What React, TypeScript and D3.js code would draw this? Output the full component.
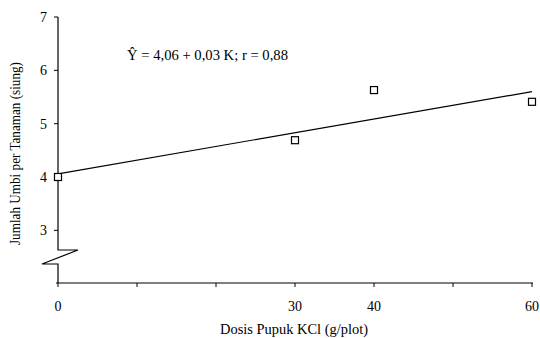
import React from "react";
import * as d3 from "d3";

const doses = [0, 30, 40, 60];
const yields = [4.0, 4.69, 5.63, 5.41];
const xTicks = [0, 10, 20, 30, 40, 50, 60];
const xTickLabels = ["0", "", "", "30", "40", "", "60"];
const yTicks = [3, 4, 5, 6, 7];
const fitStart = 4.06;
const fitEnd = 5.6;
const equation = "Ŷ = 4,06 + 0,03 K; r = 0,88";

export default function App() {
  const W = 540, H = 338;
  const x = d3.scaleLinear().domain([0, 60]).range([58, 532]);
  const y = d3.scaleLinear().domain([4, 7]).range([177, 17]);
  const axisBottom = 283;
  const font = "Liberation Serif, Times New Roman, serif";
  const line = d3.line<[number, number]>().x(d => x(d[0])).y(d => y(d[1]));
  const x0 = x(0);
  const breakTop = 250, breakBot = 264;
  return (
    <svg width={W} height={H} style={{ position: "absolute", left: 0, top: 0, background: "#fff", fontFamily: font }}>
      <rect width={W} height={H} fill="#fff" />
      <path d={`M${x0},${y(7)}V${breakTop}H${x0 + 20}L${x0 - 16},${breakBot}H${x0}V${axisBottom}`} fill="none" stroke="#000" strokeWidth={1.2} />
      {yTicks.map(t => (
        <g key={t}>
          <line x1={x0 - 4} x2={x0} y1={y(t)} y2={y(t)} stroke="#000" strokeWidth={1} />
          <text x={x0 - 11} y={y(t) + 5} fontSize={14} textAnchor="end" style={{ fontFamily: font }}>{t}</text>
        </g>
      ))}
      <line x1={x0 - 2} x2={x(60) + 1} y1={axisBottom} y2={axisBottom} stroke="#000" strokeWidth={1.2} />
      {xTicks.map((t, i) => (
        <g key={t}>
          <line x1={x(t)} x2={x(t)} y1={axisBottom} y2={axisBottom + 4} stroke="#000" strokeWidth={1} />
          {xTickLabels[i] && <text x={x(t)} y={axisBottom + 28} fontSize={14} textAnchor="middle" style={{ fontFamily: font }}>{xTickLabels[i]}</text>}
        </g>
      ))}
      <path d={line([[0, fitStart], [60, fitEnd]]) || ""} fill="none" stroke="#000" strokeWidth={1.2} />
      {doses.map((d, i) => (
        <rect key={d} x={x(d) - 3.5} y={y(yields[i]) - 3.5} width={7} height={7} fill="#fff" stroke="#000" strokeWidth={1.2} />
      ))}
      <text x={127} y={60} fontSize={14} textLength={161} lengthAdjust="spacingAndGlyphs" style={{ fontFamily: font }}>{equation}</text>
      <text x={220} y={334} fontSize={14} textLength={148} lengthAdjust="spacingAndGlyphs" style={{ fontFamily: font }}>Dosis  Pupuk KCl (g/plot)</text>
      <text transform={`translate(20,245) rotate(-90)`} fontSize={14} textLength={183} lengthAdjust="spacingAndGlyphs" style={{ fontFamily: font }}>Jumlah Umbi per Tanaman (siung)</text>
    </svg>
  );
}
